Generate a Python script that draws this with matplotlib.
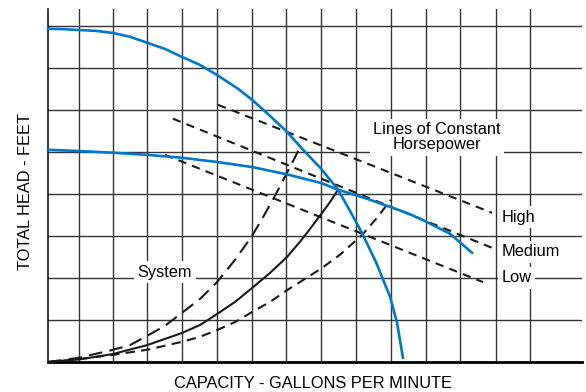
import matplotlib
matplotlib.use("Agg")
import matplotlib.pyplot as plt
from matplotlib import font_manager

# grid positions (in grid units)
grid_x = [0.89, 1.87, 2.85, 3.86, 4.87, 5.88, 6.86, 7.87, 8.88, 9.88, 10.89, 11.87, 12.91, 13.89]
grid_y = [1, 2, 3, 4, 5, 6, 7, 8]

# pump curves (blue)
pump_high_x = [0, 0.46, 0.89, 1.38, 1.87, 2.36, 2.85, 3.37, 3.86, 4.38, 4.87, 5.48, 5.88, 6.34,
               6.86, 7.35, 7.87, 8.36, 8.70, 9.05, 9.45, 9.86, 10.06, 10.23]
pump_high_y = [7.93, 7.92, 7.90, 7.88, 7.83, 7.74, 7.60, 7.45, 7.26, 7.07, 6.83, 6.50, 6.24, 5.90,
               5.50, 5.05, 4.60, 4.10, 3.60, 3.07, 2.38, 1.55, 0.93, 0.10]

pump_flat_x = [0, 0.89, 1.87, 2.85, 3.86, 4.87, 5.88, 6.86, 7.87, 8.36, 9.14, 9.86, 10.43,
               10.92, 11.59, 12.22]
pump_flat_y = [5.05, 5.02, 4.98, 4.93, 4.86, 4.76, 4.64, 4.47, 4.26, 4.10, 3.90, 3.69, 3.52,
               3.33, 3.05, 2.60]

# system curves (black)
sys_solid_x = [0, 0.89, 1.87, 2.85, 3.86, 4.38, 4.87, 5.39, 5.88, 6.40, 6.89, 7.26, 7.49, 7.90, 8.13, 8.36]
sys_solid_y = [0, 0.06, 0.19, 0.40, 0.69, 0.88, 1.14, 1.43, 1.76, 2.12, 2.50, 2.86, 3.10, 3.55, 3.81, 4.10]

sys_long_x = [0, 0.89, 1.87, 2.36, 2.85, 3.37, 3.86, 4.38, 4.87, 5.39, 5.88, 6.20, 6.48, 6.95, 7.26]
sys_long_y = [0, 0.10, 0.29, 0.40, 0.62, 0.86, 1.17, 1.50, 1.90, 2.43, 3.00, 3.45, 3.86, 4.60, 5.10]

sys_short_x = [0, 0.89, 1.87, 2.85, 3.86, 4.38, 4.87, 5.39, 5.88, 6.40, 6.89, 7.41, 7.90, 8.41,
               9.05, 9.48, 9.88]
sys_short_y = [0, 0.07, 0.17, 0.29, 0.48, 0.60, 0.76, 0.95, 1.19, 1.43, 1.71, 1.98, 2.24, 2.55,
               3.02, 3.43, 3.86]

# lines of constant horsepower
hp_names = ["High", "Medium", "Low"]
hp_x = [[4.90, 12.80], [3.60, 12.82], [3.37, 12.54]]
hp_y = [[6.12, 3.55], [5.79, 2.71], [4.93, 1.90]]
hp_label_y = [3.45, 2.62, 2.0]

names = {f.name for f in font_manager.fontManager.ttflist}
if "Liberation Sans Narrow" in names:
    plt.rcParams["font.family"] = ["Liberation Sans Narrow", "DejaVu Sans"]
    fs = 13.5
else:
    plt.rcParams["font.family"] = ["Liberation Sans", "DejaVu Sans"]
    fs = 11.8

blue = "#0077c8"
ink = "#1a1a1a"
box = dict(facecolor="white", edgecolor="none", pad=2.5)

fig = plt.figure(figsize=(5.86, 3.92), dpi=100)
ax = fig.add_axes([48 / 586, 1 - 362 / 392, 534 / 586, 353 / 392])
ax.set_xlim(0, 15.39)
ax.set_ylim(0, 8.40)
ax.set_xticks(grid_x)
ax.set_yticks(grid_y)
ax.tick_params(length=0, labelbottom=False, labelleft=False)
ax.grid(True, color="#333333", lw=1.0)
ax.set_axisbelow(True)
ax.spines["top"].set_visible(False)
ax.spines["right"].set_visible(False)
ax.spines["left"].set_linewidth(1.1)
ax.spines["bottom"].set_linewidth(2.0)

ax.plot(pump_high_x, pump_high_y, color=blue, lw=1.9, clip_on=False, zorder=4)
ax.plot(pump_flat_x, pump_flat_y, color=blue, lw=1.9, clip_on=False, zorder=4)

ax.plot(sys_solid_x, sys_solid_y, color=ink, lw=1.5, clip_on=False, zorder=3)
ax.plot(sys_long_x, sys_long_y, color=ink, lw=1.5, ls=(0, (6.5, 3.5)), clip_on=False, zorder=3)
ax.plot(sys_short_x, sys_short_y, color=ink, lw=1.5, ls=(0, (4.5, 3)), clip_on=False, zorder=3)

for name, xs, ys, ly in zip(hp_names, hp_x, hp_y, hp_label_y):
    ax.plot(xs, ys, color=ink, lw=1.5, ls=(0, (4, 3)), zorder=3)
    ax.text(13.08, ly, name, fontsize=fs, ha="left", va="center", bbox=box, zorder=6)

ax.text(11.21, 5.35, "Lines of Constant\nHorsepower", fontsize=fs, ha="center", va="center",
        linespacing=1.0, bbox=box, zorder=6)
ax.text(3.37, 2.14, "System", fontsize=fs, ha="center", va="center", bbox=box, zorder=6)

fig.text(312.5 / 586, 1 - 383 / 392, "CAPACITY - GALLONS PER MINUTE", fontsize=fs,
         ha="center", va="center")
fig.text(25 / 586, 1 - 191 / 392, "TOTAL HEAD - FEET", fontsize=fs, rotation=90,
         ha="center", va="center")

fig.savefig("out.png", dpi=100)
